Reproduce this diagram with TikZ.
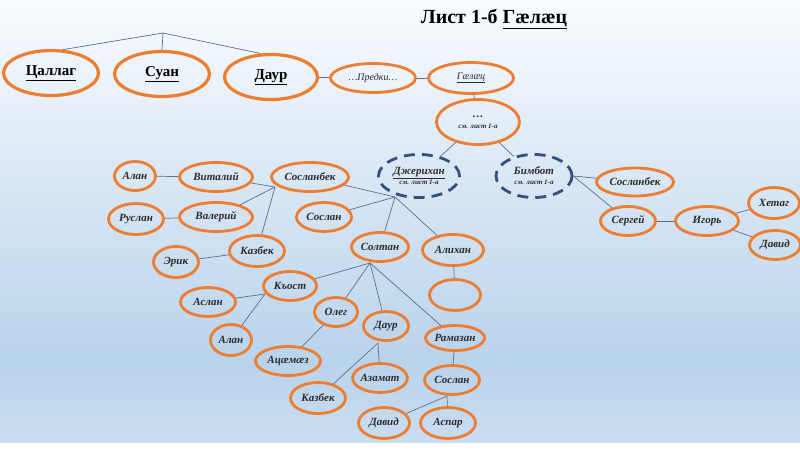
\documentclass[tikz,border=0pt]{standalone}
\usepackage{fontspec}
\setmainfont{Liberation Serif}
\usetikzlibrary{shapes.geometric}
\definecolor{orng}{HTML}{ED7D31}
\definecolor{dblue}{HTML}{34507F}
\definecolor{lnkc}{HTML}{5B6F8C}
\definecolor{txt}{HTML}{2B2B2B}
\definecolor{bgtop}{HTML}{F9FBFE}
\definecolor{bgmid}{HTML}{B9D3EB}
\definecolor{bgbot}{HTML}{C9DDF0}
\newcommand{\seeref}{{\fontsize{7}{8}\selectfont см. лист 1-а}}
\begin{document}
\begin{tikzpicture}[x=1pt,y=-1pt,
pers/.style={ellipse,draw=orng,line width=2.8pt,inner sep=0pt,text=txt,font=\fontsize{11}{12}\selectfont\bfseries\itshape},
big/.style={pers,line width=3.2pt,text=black,font=\fontsize{15}{17}\selectfont\bfseries},
refd/.style={ellipse,draw=dblue,line width=2.8pt,dash pattern=on 11pt off 7pt,inner sep=0pt,align=center,text=txt,font=\fontsize{11}{12}\selectfont\bfseries\itshape},
lnk/.style={draw=lnkc,line width=0.7pt}]
\useasboundingbox (0,0) rectangle (800,450);
\shade[top color=bgtop,bottom color=bgmid] (0,0) rectangle (800,360);
\shade[top color=bgmid,bottom color=bgbot] (0,360) rectangle (800,442);
\node[font=\fontsize{20}{22}\selectfont\bfseries] (title) at (494,19) {Лист 1-б \underline{Гæлæц}};
\node[big,minimum width=95pt,minimum height=45pt] (tsallag) at (51,73) {\underline{Цаллаг}};
\node[big,minimum width=95pt,minimum height=45pt] (suan) at (162,74) {\underline{Суан}};
\node[big,minimum width=93pt,minimum height=45pt] (daur) at (271,77) {\underline{Даур}};
\node[pers,minimum width=85pt,minimum height=29pt,font=\fontsize{10}{11}\selectfont\itshape] (predki) at (373,78) {…Предки…};
\node[pers,minimum width=85pt,minimum height=31pt,font=\fontsize{10}{11}\selectfont\itshape] (gaelaec) at (471,78) {\underline{Гæлæц}};
\node[pers,minimum width=83pt,minimum height=45pt,align=center] (dots) at (478,122) {…\\[-1pt]\seeref};
\node[refd,minimum width=81pt,minimum height=43pt] (dzherikhan) at (419,176) {\underline{Джерихан}\\[-2pt]\seeref};
\node[refd,minimum width=76pt,minimum height=43pt] (bimbot) at (534,176) {Бимбот\\[-2pt]\seeref};
\node[pers,minimum width=77pt,minimum height=28pt] (soslanbekR) at (635,182) {Сосланбек};
\node[pers,minimum width=55pt,minimum height=29pt] (sergej) at (628,221) {Сергей};
\node[pers,minimum width=63pt,minimum height=29pt] (igor) at (707,221) {Игорь};
\node[pers,minimum width=51pt,minimum height=31pt] (khetag) at (774,203) {Хетаг};
\node[pers,minimum width=51pt,minimum height=29pt] (davidR) at (775,245) {Давид};
\node[pers,minimum width=41pt,minimum height=29pt] (alan) at (135,176) {Алан};
\node[pers,minimum width=73pt,minimum height=29pt] (vitalij) at (216,177) {Виталий};
\node[pers,minimum width=77pt,minimum height=29pt] (soslanbek) at (310,177) {Сосланбек};
\node[pers,minimum width=55pt,minimum height=31pt] (ruslan) at (136,219) {Руслан};
\node[pers,minimum width=73pt,minimum height=29pt] (valerij) at (216,217) {Валерий};
\node[pers,minimum width=55pt,minimum height=29pt] (soslan) at (324,217) {Сослан};
\node[pers,minimum width=55pt,minimum height=31pt] (kazbek) at (257,251) {Казбек};
\node[pers,minimum width=45pt,minimum height=31pt] (erik) at (176,262) {Эрик};
\node[pers,minimum width=57pt,minimum height=29pt] (soltan) at (380,247) {Солтан};
\node[pers,minimum width=61pt,minimum height=31pt] (alikhan) at (453,250) {Алихан};
\node[pers,minimum width=51pt,minimum height=31pt] (empty) at (455,295) {};
\node[pers,minimum width=53pt,minimum height=29pt] (kuost) at (290,286) {Къост};
\node[pers,minimum width=55pt,minimum height=29pt] (aslan) at (208,302) {Аслан};
\node[pers,minimum width=41pt,minimum height=31pt] (alanB) at (231,340) {Алан};
\node[pers,minimum width=43pt,minimum height=29pt] (oleg) at (336,312) {Олег};
\node[pers,minimum width=65pt,minimum height=29pt] (atsaemaez) at (288,361) {Ацæмæз};
\node[pers,minimum width=45pt,minimum height=29pt] (daurB) at (386,326) {Даур};
\node[pers,minimum width=53pt,minimum height=29pt] (azamat) at (380,378) {Азамат};
\node[pers,minimum width=55pt,minimum height=31pt] (kazbekB) at (318,398) {Казбек};
\node[pers,minimum width=59pt,minimum height=25pt] (ramazan) at (455,338) {Рамазан};
\node[pers,minimum width=55pt,minimum height=29pt] (soslanB) at (452,380) {Сослан};
\node[pers,minimum width=51pt,minimum height=31pt] (davidB) at (384,423) {Давид};
\node[pers,minimum width=55pt,minimum height=31pt] (aspar) at (448,423) {Аспар};
\coordinate (top) at (163,33);
\coordinate (hS) at (275,187);
\coordinate (hD) at (395,197);
\coordinate (hSo) at (370,263);
\coordinate (hK) at (265,294);
\coordinate (hDa) at (378,343);
\coordinate (hSB) at (447,396);
\draw[lnk] (top) -- (tsallag.63);
\draw[lnk] (top) -- (suan.north);
\draw[lnk] (top) -- (daur.114);
\draw[lnk] (daur) -- (predki);
\draw[lnk] (predki) -- (gaelaec);
\draw[lnk] (gaelaec) -- (dots);
\draw[lnk] (dots) -- (dzherikhan);
\draw[lnk] (dots) -- (bimbot);
\draw[lnk] (bimbot.east) -- (soslanbekR);
\draw[lnk] (bimbot.east) -- (sergej);
\draw[lnk] (sergej) -- (igor);
\draw[lnk] (igor) -- (khetag);
\draw[lnk] (igor) -- (davidR);
\draw[lnk] (alan) -- (vitalij);
\draw[lnk] (ruslan) -- (valerij);
\draw[lnk] (erik) -- (kazbek);
\draw[lnk] (hS) -- (vitalij);
\draw[lnk] (hS) -- (valerij);
\draw[lnk] (hS) -- (kazbek);
\draw[lnk] (hD) -- (soslanbek);
\draw[lnk] (hD) -- (soslan);
\draw[lnk] (hD) -- (soltan);
\draw[lnk] (hD) -- (alikhan);
\draw[lnk] (alikhan) -- (empty);
\draw[lnk] (hSo) -- (kuost);
\draw[lnk] (hSo) -- (oleg);
\draw[lnk] (hSo) -- (daurB);
\draw[lnk] (hSo) -- (ramazan);
\draw[lnk] (hK) -- (aslan);
\draw[lnk] (hK) -- (alanB);
\draw[lnk] (oleg) -- (atsaemaez);
\draw[lnk] (hDa) -- (kazbekB);
\draw[lnk] (hDa) -- (azamat);
\draw[lnk] (ramazan) -- (soslanB);
\draw[lnk] (hSB) -- (davidB);
\draw[lnk] (hSB) -- (aspar);
\end{tikzpicture}
\end{document}
